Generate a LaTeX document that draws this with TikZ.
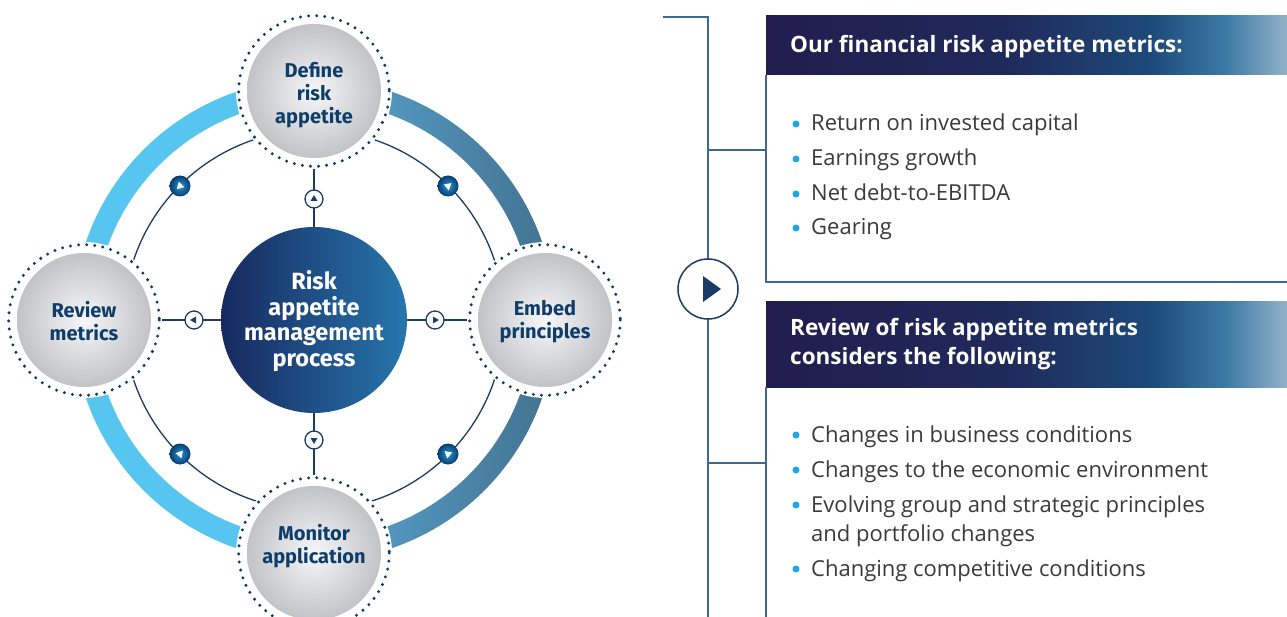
\documentclass[tikz,border=0pt]{standalone}
\usepackage{fontspec}
\setmainfont{Fira Sans}
\newfontfamily\rfont{Open Sans}
\usetikzlibrary{shapes.geometric}
\definecolor{navy}{HTML}{0E3D6A}
\definecolor{linenavy}{HTML}{1A3C64}
\definecolor{bracketc}{HTML}{3D6A8E}
\definecolor{ringlight}{HTML}{56C5EF}
\definecolor{ringdA}{HTML}{5BA6D2}
\definecolor{ringdB}{HTML}{42718F}
\definecolor{bulletc}{HTML}{1EA7E1}
\definecolor{bodyc}{HTML}{3A3A3A}
\definecolor{dotc}{HTML}{0D3A66}
\definecolor{hdrA}{HTML}{221D4E}
\definecolor{hdrB}{HTML}{1F2A5B}
\definecolor{hdrC}{HTML}{1D4A7A}
\definecolor{hdrD}{HTML}{3A7AA4}
\definecolor{hdrE}{HTML}{93B1C8}
\definecolor{coreA}{HTML}{17295F}
\definecolor{coreB}{HTML}{2676AC}
\definecolor{silA}{HTML}{F7F7F9}
\definecolor{silB}{HTML}{C2C3C7}
\definecolor{mkA}{HTML}{2196D6}
\definecolor{mkB}{HTML}{0A3C6C}
\pgfdeclarehorizontalshading{hdrshade}{100bp}{color(0bp)=(hdrA); color(25bp)=(hdrA); color(48bp)=(hdrB); color(62bp)=(hdrC); color(69bp)=(hdrD); color(75bp)=(hdrE); color(100bp)=(hdrE)}
\tikzset{
  sattext/.style={align=center, text=navy, font=\bfseries\fontsize{20}{23}\selectfont},
  coretext/.style={align=center, text=white, font=\bfseries\fontsize{23.5}{25.7}\selectfont},
  crossmark/.style={circle, draw=linenavy, line width=1.3pt, fill=white, minimum size=18pt, inner sep=0pt},
  diagmark/.style={circle, shading=radial, inner color=mkA, outer color=mkB, minimum size=21pt, inner sep=0pt},
  tri/.style={regular polygon, regular polygon sides=3, inner sep=0pt, minimum size=9pt},
  thinline/.style={draw=linenavy, line width=1.3pt},
  bracketline/.style={draw=bracketc, line width=1.5pt},
  hdrtext/.style={anchor=west, inner sep=0pt, text=white, font=\rfont\bfseries\fontsize{22.5}{28.5}\selectfont, align=left},
  bullettext/.style={anchor=base west, inner sep=0pt, text=bodyc, font=\rfont\fontsize{22}{29}\selectfont},
  bulletdot/.style={circle, fill=bulletc, minimum size=7pt, inner sep=0pt},
}
\begin{document}
\begin{tikzpicture}[x=1pt,y=-1pt]
\useasboundingbox (0,0) rectangle (1287,617);
% thick ring
\fill[ringlight] (314,561) arc[start angle=90,end angle=270,radius=241] -- (314,101) arc[start angle=270,end angle=90,radius=219] -- cycle;
\shade[left color=ringdA, right color=ringdB] (314,79) arc[start angle=270,end angle=450,radius=241] -- (314,539) arc[start angle=450,end angle=270,radius=219] -- cycle;
% thin ring and cross
\draw[thinline] (314,320) circle[radius=190];
\coordinate (ct) at (314,150);
\coordinate (cb) at (314,490);
\coordinate (cl) at (150,320);
\coordinate (cr) at (478,320);
\draw[thinline] (ct) -- (cb);
\draw[thinline] (cl) -- (cr);
% centre
\shade[left color=coreA, right color=coreB] (314,320) circle[radius=93];
\node[coretext] (core) at (314,321) {Risk\\appetite\\management\\process};
% satellites
\foreach \cx/\cy in {314/91, 84/320, 545/320, 314/553}{
  \fill[white] (\cx,\cy) circle[radius=78];
  \shade[inner color=silA, outer color=silB] (\cx,\cy) circle[radius=67];
  \draw[dotc, line width=3.3pt, line cap=round, dash pattern=on 0pt off 8.126pt] (\cx,\cy) circle[radius=75.3];
}
\node[sattext] (define) at (314,95) {Define\\risk\\appetite};
\node[sattext] (review) at (84,321) {Review\\metrics};
\node[sattext] (embed) at (545,322) {Embed\\principles};
\node[sattext] (monitor) at (314,546) {Monitor\\application};
% cross markers
\node[crossmark] (mu) at (314,199) {};
\node[crossmark] (md) at (314,440) {};
\node[crossmark] (ml) at (194,320) {};
\node[crossmark] (mr) at (435,320) {};
\node[tri, fill=linenavy, minimum size=8pt] at (mu) {};
\node[tri, fill=linenavy, minimum size=8pt, rotate=180] at (md) {};
\node[tri, fill=linenavy, minimum size=8pt, rotate=90] at (ml) {};
\node[tri, fill=linenavy, minimum size=8pt, rotate=-90] at (mr) {};
% diagonal markers
\node[diagmark] (dtl) at (180,186) {};
\node[diagmark] (dtr) at (448,186) {};
\node[diagmark] (dbl) at (180,454) {};
\node[diagmark] (dbr) at (448,454) {};
\node[tri, fill=white, rotate=135] at (dtl) {};
\node[tri, fill=white, rotate=70] at (dtr) {};
\node[tri, fill=white, rotate=200] at (dbl) {};
\node[tri, fill=white, rotate=-70] at (dbr) {};
% bracket
\coordinate (bs) at (663,17);
\coordinate (bc) at (708,17);
\coordinate (be) at (708,617);
\draw[bracketline] (bs) -- (bc) -- (be);
\coordinate (t1a) at (708,150);
\coordinate (t1b) at (766,150);
\coordinate (t2a) at (708,463);
\coordinate (t2b) at (766,463);
\draw[bracketline] (t1a) -- (t1b);
\draw[bracketline] (t2a) -- (t2b);
\node[circle, draw=linenavy, line width=1.5pt, fill=white, minimum size=60pt, inner sep=0pt] (play) at (708,289) {};
\fill[linenavy] (703,276) -- (721,289) -- (703,302) -- cycle;
% box 1
\shade[shading=hdrshade] (766,16) rectangle (1287,75);
\draw[bracketline] (766,75) -- (766,282) -- (1287,282);
\node[hdrtext] (h1) at (790,47) {Our financial risk appetite metrics:};
\foreach \y/\t in {124/Return on invested capital, 159/Earnings growth, 194/Net debt-to-EBITDA, 228/Gearing}{
  \node[bulletdot] at (796,\y) {};
  \node[bullettext] at (811,\y+7) {\t};
}
% box 2
\shade[shading=hdrshade] (766,302) rectangle (1287,387);
\draw[bracketline] (766,387) -- (766,617);
\node[hdrtext] (h2) at (790,344) {Review of risk appetite metrics\\considers the following:};
\foreach \y/\t in {435/Changes in business conditions, 470/Changes to the economic environment, 505/Evolving group and strategic principles, 569/Changing competitive conditions}{
  \node[bulletdot] at (796,\y) {};
  \node[bullettext] at (811,\y+7) {\t};
}
\node[bullettext] at (811,541) {and portfolio changes};
\end{tikzpicture}
\end{document}
